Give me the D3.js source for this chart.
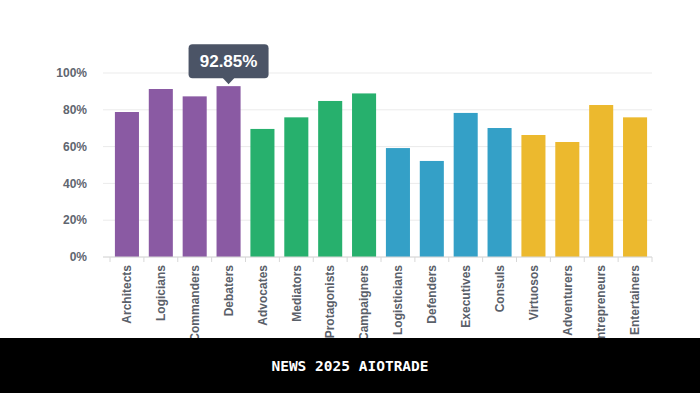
<!DOCTYPE html>
<html>
<head>
<meta charset="utf-8">
<script src="https://cdn.jsdelivr.net/npm/d3@7"></script>
<style>
  body { margin: 0; background: #fff; }
  svg { display: block; font-family: "Liberation Sans", Arial, sans-serif; }
</style>
</head>
<body>
<div id="chart"></div>
<script>
var categories = ["Architects", "Logicians", "Commanders", "Debaters",
                  "Advocates", "Mediators", "Protagonists", "Campaigners",
                  "Logisticians", "Defenders", "Executives", "Consuls",
                  "Virtuosos", "Adventurers", "Entrepreneurs", "Entertainers"];
var values = [78.8, 91.3, 87.3, 92.85, 69.6, 75.9, 84.8, 88.9,
              59.2, 52.2, 78.3, 70.1, 66.3, 62.5, 82.6, 75.9];
var groupColors = ["#8a5aa3", "#27b06d", "#34a0c7", "#ecb92e"];
var yTicks = [0, 20, 40, 60, 80, 100];
var highlighted = "Debaters";

var W = 700, H = 393;
var margin = {top: 73, right: 48, bottom: 136, left: 103},
    width = W - margin.left - margin.right,
    height = H - margin.top - margin.bottom;

var svg = d3.select("#chart").append("svg")
    .attr("width", W)
    .attr("height", H);

var g = svg.append("g")
    .attr("transform", "translate(" + margin.left + "," + margin.top + ")");

var x = d3.scaleBand().domain(categories).range([7, width]).paddingInner(0.29).paddingOuter(0.145);
var y = d3.scaleLinear().domain([0, 100]).range([height, 0]);

// grid
g.selectAll(".grid")
    .data(yTicks)
  .enter().append("line")
    .attr("x1", 0).attr("x2", width)
    .attr("y1", function(d) { return y(d); })
    .attr("y2", function(d) { return y(d); })
    .style("stroke", "#ebebeb");

// y labels
g.selectAll(".ylab")
    .data(yTicks)
  .enter().append("text")
    .attr("x", -16)
    .attr("y", function(d) { return y(d); })
    .attr("dy", "0.35em")
    .style("text-anchor", "end")
    .style("font-size", "12px")
    .style("font-weight", "bold")
    .style("fill", "#5f6670")
    .text(function(d) { return d + "%"; });

// bars
g.selectAll(".bar")
    .data(categories)
  .enter().append("rect")
    .attr("x", function(d) { return x(d); })
    .attr("width", x.bandwidth())
    .attr("y", function(d, i) { return y(values[i]); })
    .attr("height", function(d, i) { return height - y(values[i]); })
    .style("fill", function(d, i) { return groupColors[Math.floor(i / 4)]; });

// x axis
var step = x.step();
g.append("line")
    .attr("x1", 0).attr("x2", width)
    .attr("y1", height).attr("y2", height)
    .style("stroke", "#d8d8d8");
g.selectAll(".xtick")
    .data(d3.range(categories.length + 1))
  .enter().append("line")
    .attr("x1", function(i) { return x.range()[0] + i * step; })
    .attr("x2", function(i) { return x.range()[0] + i * step; })
    .attr("y1", height).attr("y2", height + 5)
    .style("stroke", "#d8d8d8");

g.selectAll(".xlab")
    .data(categories)
  .enter().append("text")
    .attr("transform", function(d) {
      return "translate(" + (x(d) + x.bandwidth() / 2) + "," + (height + 8) + ") rotate(-90)";
    })
    .attr("dy", "0.35em")
    .style("text-anchor", "end")
    .style("font-size", "12px")
    .style("font-weight", "bold")
    .style("fill", "#5a6069")
    .text(function(d) { return d; });

// tooltip
var hi = categories.indexOf(highlighted);
var tx = x(highlighted) + x.bandwidth() / 2,
    ty = y(values[hi]) - 2;
var tip = g.append("g").attr("transform", "translate(" + tx + "," + ty + ")");
tip.append("rect")
    .attr("x", -40).attr("y", -40)
    .attr("width", 80).attr("height", 34)
    .attr("rx", 4)
    .style("fill", "#4b5466");
tip.append("path")
    .attr("d", "M-6,-6.5L0,0L6,-6.5Z")
    .style("fill", "#4b5466");
tip.append("text")
    .attr("x", 0).attr("y", -23)
    .attr("dy", "0.35em")
    .style("text-anchor", "middle")
    .style("font-size", "17px")
    .style("font-weight", "bold")
    .style("fill", "#fff")
    .text(values[hi].toFixed(2) + "%");

// footer banner
svg.append("rect")
    .attr("x", 0).attr("y", 338)
    .attr("width", W).attr("height", H - 338)
    .style("fill", "#000");
svg.append("text")
    .attr("x", W / 2).attr("y", 366)
    .attr("dy", "0.35em")
    .style("text-anchor", "middle")
    .style("font-family", "'DejaVu Sans Mono', monospace")
    .style("font-size", "14.5px")
    .style("font-weight", "bold")
    .style("fill", "#fff")
    .text("NEWS 2025 AIOTRADE");
</script>
</body>
</html>
